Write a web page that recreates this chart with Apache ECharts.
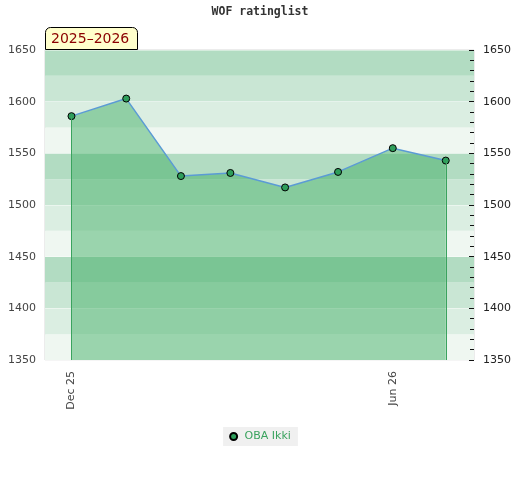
<!DOCTYPE html>
<html>
	<head>
		<meta charset="UTF-8">
		<title>WOF ratinglist</title>
		<script src="https://cdn.jsdelivr.net/npm/echarts@6/dist/echarts.min.js"></script>
		<style>
			html, body { margin: 0; padding: 0; background: #fff; }
			#chart { width: 520px; height: 480px; }
		</style>
	</head>
	<body>
		<div id="chart"></div>
		<script>
			// 数据
			var playerName = 'OBA Ikki';
			var seasonText = '2025–2026';
			var dates = ['2025-12-01', '2026-01-01', '2026-02-01', '2026-03-01', '2026-04-01', '2026-05-01', '2026-06-01', '2026-07-01'];
			var ratings = [1586, 1603, 1528, 1531, 1517, 1532, 1555, 1543];
			var tickDates = ['2025-12-01', '2026-06-01'];
			var monthNames = ['Jan', 'Feb', 'Mar', 'Apr', 'May', 'Jun', 'Jul', 'Aug', 'Sep', 'Oct', 'Nov', 'Dec'];
			var xMin = '2025-11-16';
			var xMax = '2026-07-17';
			var yMin = 1350;
			var yMax = 1650;

			function toTime(s) {
				return new Date(s + 'T00:00:00').getTime();
			}

			var chart = echarts.init(document.getElementById('chart'));

			var seriesData = [];
			for (var i = 0; i < dates.length; i++) {
				seriesData.push([toTime(dates[i]), ratings[i]]);
			}

			var last = dates.length - 1;

			var option = {
				animation: false,
				textStyle: { fontFamily: 'DejaVu Sans' },
				title: [{
					text: 'WOF ratinglist',
					left: 'center',
					top: 6,
					padding: 0,
					textStyle: {
						fontFamily: 'DejaVu Sans Mono',
						fontWeight: 'bold',
						fontSize: 11.5,
						color: '#333'
					}
				}, {
					text: seasonText,
					left: 45,
					top: 27,
					padding: [4, 8, 3, 6],
					backgroundColor: '#ffffcc',
					borderColor: '#000',
					borderWidth: 1,
					borderRadius: [5, 5, 0, 0],
					textStyle: {
						fontFamily: 'DejaVu Sans',
						fontWeight: 'normal',
						fontSize: 14,
						lineHeight: 16,
						color: '#8b0000'
					}
				}],
				legend: {
					data: [{ name: playerName, icon: 'circle' }],
					left: 'center',
					top: 427,
					backgroundColor: '#f0f0f0',
					padding: [4, 7, 4, 6],
					itemWidth: 12,
					itemHeight: 7,
					textStyle: { color: '#3aa35e', fontSize: 11 }
				},
				grid: {
					left: 45,
					right: 46,
					top: 50,
					bottom: 120,
					show: true,
					borderColor: '#d9d9d9',
					borderWidth: 1
				},
				xAxis: {
					type: 'value',
					min: toTime(xMin),
					max: toTime(xMax),
					axisLine: { show: false },
					axisTick: { show: false },
					splitLine: { show: false },
					axisLabel: {
						rotate: 90,
						margin: 11,
						fontSize: 11,
						color: '#444',
						customValues: tickDates.map(toTime),
						formatter: function (v) {
							var d = new Date(v);
							return monthNames[d.getMonth()] + ' ' + String(d.getFullYear()).slice(2);
						}
					}
				},
				yAxis: [{
					// 左轴：标签 + 色带
					type: 'value',
					position: 'left',
					min: yMin,
					max: yMax,
					interval: 25,
					axisLine: { show: false },
					axisTick: { show: false },
					splitLine: { show: false },
					splitArea: {
						show: true,
						areaStyle: { color: ['#eff7f1', '#dbeee2', '#c9e6d4', '#b2dcc2'] }
					},
					axisLabel: {
						margin: 9,
						fontSize: 11,
						color: '#444',
						formatter: function (v) { return v % 50 === 0 ? String(v) : ''; }
					}
				}, {
					// 右轴：刻度
					type: 'value',
					position: 'right',
					min: yMin,
					max: yMax,
					interval: 50,
					axisLine: { show: false },
					axisTick: { show: true, inside: true, length: 5, lineStyle: { color: '#111' } },
					minorTick: { show: true, splitNumber: 5, length: 4, lineStyle: { color: '#111' } },
					splitLine: { show: true, lineStyle: { color: 'rgba(255,255,255,0.45)', width: 1 } },
					axisLabel: {
						margin: 9,
						fontSize: 11,
						color: '#222',
						formatter: function (v) { return String(v); }
					}
				}],
				series: [{
					name: playerName,
					type: 'line',
					yAxisIndex: 0,
					data: seriesData,
					symbol: 'circle',
					symbolSize: 7,
					itemStyle: { color: '#2e9e5b', borderColor: '#000', borderWidth: 1 },
					lineStyle: { color: '#5b9bd5', width: 1.5 },
					areaStyle: { color: '#3cac60', opacity: 0.47, origin: 'start' },
					markLine: {
						silent: true,
						symbol: 'none',
						label: { show: false },
						lineStyle: { color: '#3aa35e', width: 1, type: 'solid' },
						data: [
							[{ coord: [seriesData[0][0], ratings[0]] }, { coord: [seriesData[0][0], yMin] }],
							[{ coord: [seriesData[last][0], ratings[last]] }, { coord: [seriesData[last][0], yMin] }]
						]
					}
				}]
			};

			chart.setOption(option);
		</script>
	</body>
</html>
